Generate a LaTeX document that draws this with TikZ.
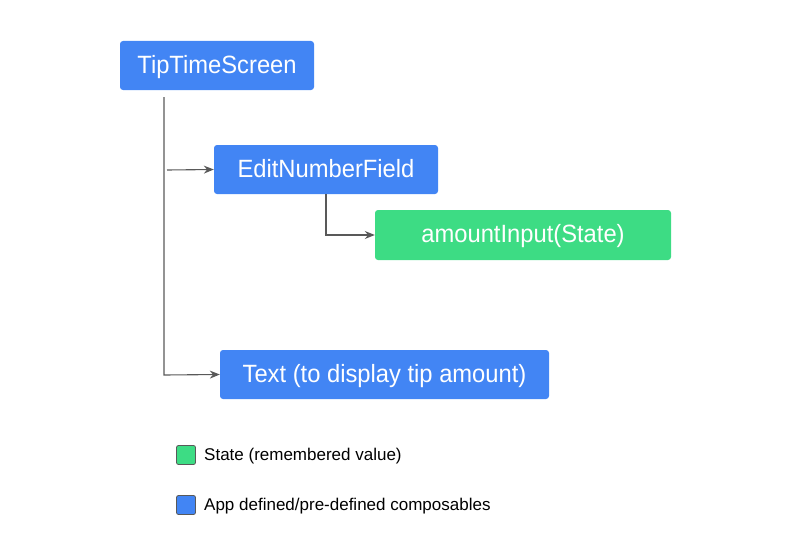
\documentclass[tikz,border=0pt]{standalone}
\usepackage{fontspec}
\setmainfont{Liberation Sans}[FakeStretch=0.95]
\newfontfamily\legfont{Liberation Sans}[FakeStretch=1.0]
\usetikzlibrary{arrows.meta}
\definecolor{cblue}{HTML}{4285F4}
\definecolor{cgreen}{HTML}{3DDC84}
\definecolor{cline}{HTML}{595959}
\tikzset{
  box/.style={rounded corners=3pt, inner sep=0pt, text=white, text height=18pt, text depth=3pt, font=\fontsize{25}{28}\selectfont, anchor=center},
  bluebox/.style={box, fill=cblue},
  greenbox/.style={box, fill=cgreen},
  conn/.style={draw=cline, line width=1.1pt, -{Stealth[length=10pt,width=8pt]}},
  legsq/.style={draw=cline, line width=0.8pt, rounded corners=2pt, minimum size=19pt, inner sep=0pt},
  legtext/.style={anchor=west, inner sep=0pt, text=black, font=\legfont\fontsize{17}{20}\selectfont}
}
\begin{document}
\begin{tikzpicture}[x=1pt,y=-1pt]
\useasboundingbox (0,0) rectangle (799,543);
\node[bluebox, minimum width=194pt, minimum height=49pt] (tts) at (217,65.5) {TipTimeScreen};
\node[bluebox, minimum width=224pt, minimum height=49pt] (enf) at (326,169.5) {EditNumberField};
\node[greenbox, minimum width=296pt, minimum height=50pt] (ai) at (523,235) {amountInput(State)};
\node[bluebox, minimum width=329pt, minimum height=49pt] (txt) at (384.5,374.5) {Text (to display tip amount)};
\coordinate (top) at (164,97);
\coordinate (bot) at (164,375);
\coordinate (br) at (167,170);
\coordinate (ed) at (326,235);
\draw[conn] (top) -- (bot) -- (txt.west);
\draw[conn] (br) -- (enf.west);
\draw[conn] (enf.south -| ed) -- (ed) -- (ai.west);
\node[legsq, fill=cgreen] (lg) at (186,455) {};
\node[legsq, fill=cblue] (lb) at (186,505) {};
\node[legtext] (lgt) at (204,456) {State (remembered value)};
\node[legtext] (lbt) at (204,506) {App defined/pre-defined composables};
\end{tikzpicture}
\end{document}
